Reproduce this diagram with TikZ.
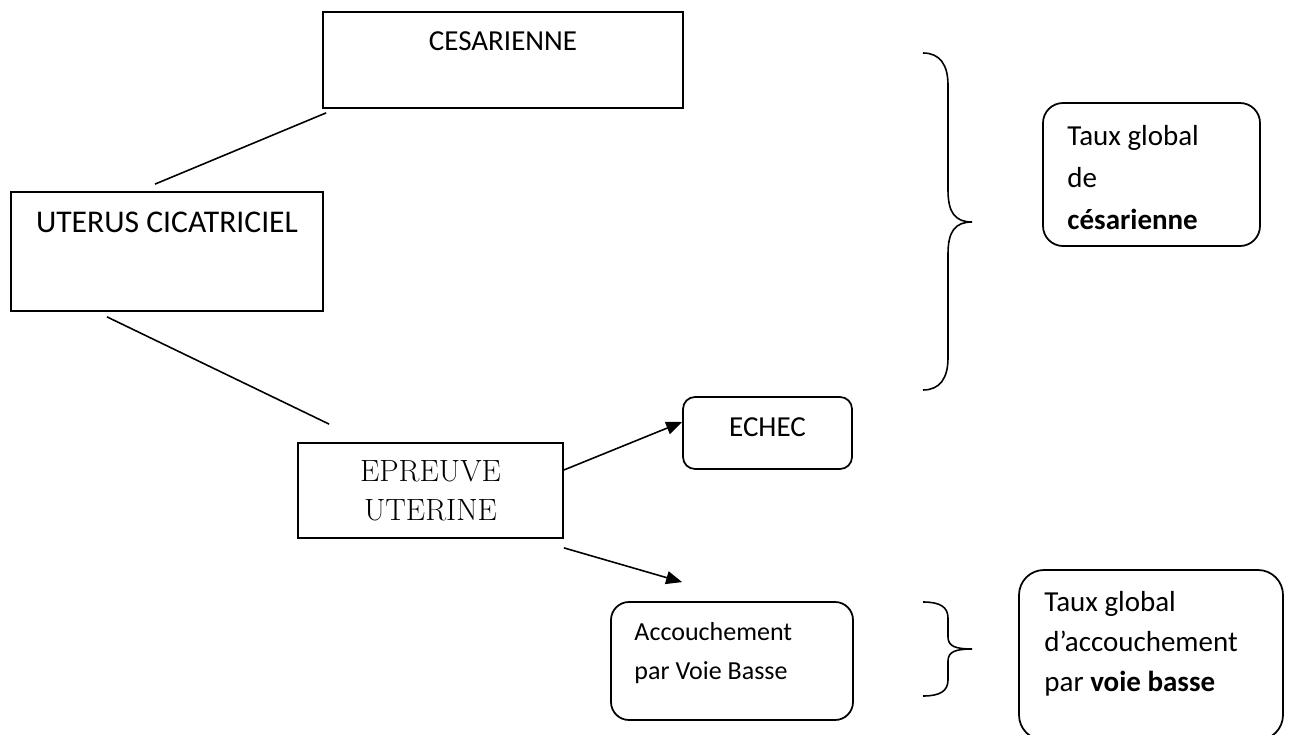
\documentclass[tikz,border=0pt]{standalone}
\usepackage{fontspec}
\setmainfont{Carlito}
\newfontfamily\romfont{Latin Modern Roman}
\usetikzlibrary{positioning,arrows.meta}

\tikzset{
  boite/.style={draw,line width=1pt},
  ronde/.style={draw,line width=1pt,rounded corners=#1},
  texte/.style={inner sep=0pt,font=\fontsize{16.5}{22.8}\selectfont},
  trait/.style={line width=0.9pt},
  fleche/.style={line width=0.9pt,-{Triangle[length=0.32cm,width=0.26cm]}},
  accolade/.style={line width=0.9pt},
}

\begin{document}
\begin{tikzpicture}
				\useasboundingbox (0,0) rectangle (25.8,-14.7);
				\node [boite, minimum width=7.2cm, minimum height=1.92cm] (ces) at (10.06,-1.2) {};
				\node [boite, minimum width=6.24cm, minimum height=2.38cm] (ut) at (3.34,-5.03) {};
				\node [boite, minimum width=5.3cm, minimum height=1.9cm] (epr) at (8.61,-9.81) {};
				\node [ronde=0.24cm, minimum width=3.38cm, minimum height=1.44cm] (echec) at (15.35,-8.66) {};
				\node [ronde=0.36cm, minimum width=4.84cm, minimum height=2.36cm] (avb) at (14.64,-13.22) {};
				\node [ronde=0.4cm, minimum width=4.34cm, minimum height=2.86cm] (tgc) at (23.03,-3.49) {};
				\node [ronde=0.5cm, minimum width=5.28cm, minimum height=3.4cm] (tgv) at (23.02,-13.1) {};
				\node [texte, below = 0.41 of ces.north] (tces) {CESARIENNE};
				\node [texte, font=\fontsize{18}{22}\selectfont, below = 0.42 of ut.north] (tut) {UTERUS CICATRICIEL};
				\node [texte, font=\romfont\fontsize{17.5}{22.2}\selectfont, align=center, below = 0.37 of epr.north] (tepr) {EPREUVE\\UTERINE};
				\node [texte, below = 0.43 of echec.north] (techec) {ECHEC};
				\node [texte, font=\fontsize{14.8}{22.2}\selectfont, align=left, below right = 0.42 and 0.48 of avb.north west] (tavb) {Accouchement\\par Voie Basse};
				\node [texte, font=\fontsize{16.5}{23.9}\selectfont, align=left, below right = 0.46 and 0.5 of tgc.north west] (ttgc) {Taux global\\de\\\textbf{césarienne}};
				\node [texte, align=left, below right = 0.44 and 0.52 of tgv.north west] (ttgv) {Taux global\\d’accouchement\\par \textbf{voie basse}};
				\draw [trait] ([shift={(0.08,-0.08)}]ces.south west) -- ([shift={(-0.24,0.14)}]ut.north);
				\draw [trait] ([shift={(-1.2,-0.1)}]ut.south) -- ([shift={(0.64,0.36)}]epr.north west);
				\draw [fleche] ([yshift=0.41cm]epr.east) -- ([yshift=0.22cm]echec.west);
				\draw [fleche] ([yshift=-0.18cm]epr.south east) -- ([shift={(1.44,0.38)}]avb.north west);
				\draw [accolade] (18.46,-1.06) .. controls (18.8,-1.06) and (18.96,-1.3) .. (18.96,-1.7) -- (18.96,-3.8) .. controls (18.96,-4.25) and (19.1,-4.44) .. (19.44,-4.44) .. controls (19.1,-4.44) and (18.96,-4.63) .. (18.96,-5.08) -- (18.96,-7.16) .. controls (18.96,-7.56) and (18.8,-7.8) .. (18.46,-7.8);
				\draw [accolade] (18.46,-12.04) .. controls (18.8,-12.04) and (18.96,-12.14) .. (18.96,-12.36) -- (18.96,-12.74) .. controls (18.96,-12.92) and (19.1,-12.98) .. (19.44,-12.98) .. controls (19.1,-12.98) and (18.96,-13.04) .. (18.96,-13.22) -- (18.96,-13.6) .. controls (18.96,-13.82) and (18.8,-13.92) .. (18.46,-13.92);
\end{tikzpicture}
\end{document}
